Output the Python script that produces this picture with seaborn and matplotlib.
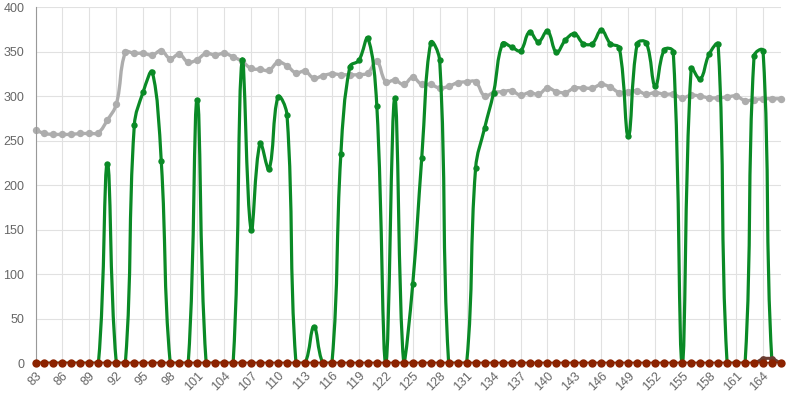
import numpy as np
import pandas as pd
import matplotlib
matplotlib.use("Agg")
import matplotlib.pyplot as plt
from matplotlib.path import Path
from matplotlib.patches import PathPatch
import seaborn as sns

# ---------------- data ----------------
x_values = list(range(83, 167))

gray_series = [262, 258, 257, 257, 257, 258, 258, 259, 273, 291,
               349, 348, 348, 346, 351, 342, 347, 338, 341, 348,
               346, 348, 344, 339, 331, 330, 329, 338, 334, 326,
               328, 320, 323, 325, 324, 324, 324, 326, 339, 316,
               318, 313, 321, 313, 313, 309, 311, 315, 316, 316,
               300, 304, 305, 306, 301, 304, 302, 309, 305, 304,
               309, 309, 309, 313, 310, 304, 305, 306, 302, 304,
               302, 302, 298, 301, 300, 298, 298, 299, 300, 295,
               296, 297, 297, 297]

green_series = [0, 0, 0, 0, 0, 0, 0, 0, 224, 0,
                0, 267, 305, 327, 227, 0, 0, 0, 296, 0,
                0, 0, 0, 340, 150, 247, 218, 299, 279, 0,
                0, 41, 0, 0, 235, 333, 340, 365, 289, 0,
                298, 0, 89, 230, 360, 340, 0, 0, 0, 219,
                264, 304, 359, 355, 351, 372, 361, 373, 349, 363,
                370, 359, 359, 374, 359, 354, 255, 359, 360, 311,
                352, 350, 0, 331, 319, 347, 358, 0, 0, 0,
                345, 351, 0, 0]

brown_series = [0] * 81 + [5, 5, 0]
red_series = [0] * 84

y_ticks = list(range(0, 401, 50))
x_ticks = list(range(83, 165, 3))

# ---------------- style ----------------
W, H, DPI = 789, 394, 100
sns.set_style("white")
plt.rcParams['font.family'] = ['Liberation Sans', 'DejaVu Sans']

fig = plt.figure(figsize=(W / DPI, H / DPI), dpi=DPI)
left_px, right_px, top_px, bottom_px = 35.5, 781.0, 7.0, 363.3
ax = fig.add_axes([left_px / W, 1 - bottom_px / H,
                   (right_px - left_px) / W, (bottom_px - top_px) / H])

xmin, xmax, ymin, ymax = 83, 166, 0, 400
ax.set_xlim(xmin, xmax)
ax.set_ylim(ymin, ymax)

sx = (right_px - left_px) / (xmax - xmin)
sy = (bottom_px - top_px) / (ymax - ymin)


def spline_path(xs, ys, tension=0.4):
    xs = np.asarray(xs, float)
    ys = np.asarray(ys, float)
    px, py = xs * sx, ys * sy
    n = len(xs)
    cprev, cnext = [], []
    for i in range(n):
        p0 = (px[max(i - 1, 0)], py[max(i - 1, 0)])
        p1 = (px[i], py[i])
        p2 = (px[min(i + 1, n - 1)], py[min(i + 1, n - 1)])
        d01 = np.hypot(p1[0] - p0[0], p1[1] - p0[1])
        d12 = np.hypot(p2[0] - p1[0], p2[1] - p1[1])
        tot = d01 + d12
        s01 = d01 / tot if tot else 0
        s12 = d12 / tot if tot else 0
        fa, fb = tension * s01, tension * s12
        cp = (p1[0] - fa * (p2[0] - p0[0]), p1[1] - fa * (p2[1] - p0[1]))
        cn = (p1[0] + fb * (p2[0] - p0[0]), p1[1] + fb * (p2[1] - p0[1]))
        cprev.append(cp)
        cnext.append(cn)

    def to_data(p):
        x = min(max(p[0] / sx, xmin), xmax)
        y = min(max(p[1] / sy, ymin), ymax)
        return (x, y)

    verts = [(xs[0], ys[0])]
    codes = [Path.MOVETO]
    for i in range(n - 1):
        verts += [to_data(cnext[i]), to_data(cprev[i + 1]), (xs[i + 1], ys[i + 1])]
        codes += [Path.CURVE4] * 3
    return Path(verts, codes)


df = pd.DataFrame({"x": x_values, "gray": gray_series, "green": green_series,
                   "brown": brown_series, "red": red_series})

series_style = [
    ("gray", "#adadad", 2.4, 28, 1),
    ("green", "#0a8a26", 2.3, 21, 2),
    ("brown", "#6b3d33", 2.2, 24, 3),
    ("red", "#8b2300", 2.2, 36, 4),
]

for name, color, lw, ms, z in series_style:
    path = spline_path(df["x"], df[name])
    patch = PathPatch(path, facecolor="none", edgecolor=color, lw=lw,
                      capstyle="round", joinstyle="round", zorder=z)
    ax.add_patch(patch)
    sns.scatterplot(data=df, x="x", y=name, ax=ax, color=color, s=ms,
                    linewidth=0, zorder=z + 0.5, clip_on=False, legend=False)

# ---------------- axes ----------------
ax.set_xticks(x_ticks)
ax.set_yticks(y_ticks)
ax.set_xticklabels([str(t) for t in x_ticks], rotation=45, ha="right",
                   rotation_mode="anchor")
ax.grid(True, color="#e1e1e1", linewidth=0.8)
ax.set_axisbelow(True)
ax.tick_params(axis="both", colors="#666666", labelsize=9, width=0.8)
ax.tick_params(axis="both", color="#e1e1e1")
ax.tick_params(axis="x", length=3.5, pad=1)
ax.tick_params(axis="y", length=6, pad=2)
for s in ["top", "right"]:
    ax.spines[s].set_visible(False)
ax.spines["left"].set_color("#999999")
ax.spines["left"].set_linewidth(0.8)
ax.spines["bottom"].set_color("#999999")
ax.spines["bottom"].set_linewidth(0.8)
ax.set_xlabel("")
ax.set_ylabel("")

fig.savefig("out.png", dpi=DPI)
